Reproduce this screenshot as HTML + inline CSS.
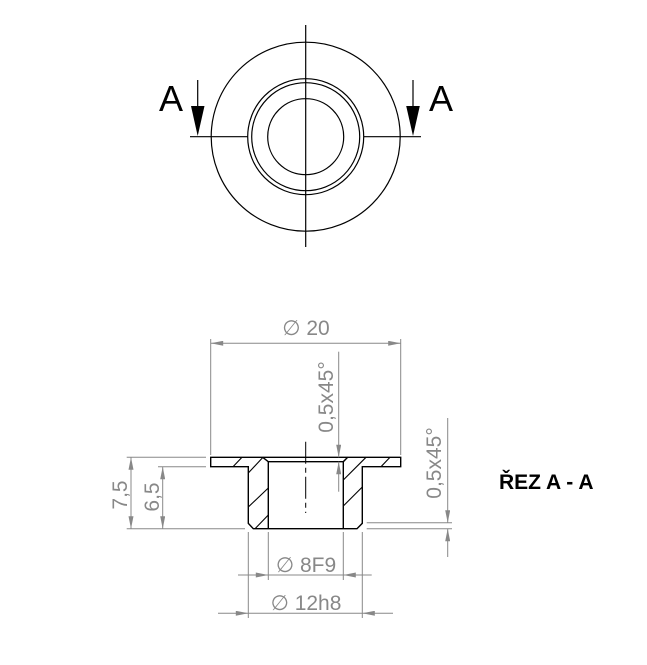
<!DOCTYPE html>
<html><head><meta charset="utf-8"><style>
html,body{margin:0;padding:0;background:#fff;}
svg{display:block;}
text{font-family:"Liberation Sans",sans-serif;}
</style></head><body>
<svg width="647" height="665" viewBox="0 0 647 665" xmlns="http://www.w3.org/2000/svg">
<defs>
<marker id="ar" viewBox="0 0 10 4" refX="10" refY="2" markerWidth="14" markerHeight="5" markerUnits="userSpaceOnUse" orient="auto-start-reverse"><path d="M0,0 L10,2 L0,4 z" fill="#888"/></marker>
</defs>
<g stroke="#000" stroke-width="1.2" fill="none">
<circle cx="305.7" cy="136.7" r="94.5"/>
<circle cx="305.7" cy="136.7" r="58"/>
<circle cx="305.7" cy="136.7" r="54"/>
<circle cx="305.7" cy="136.7" r="38"/>
<line x1="305.7" y1="25" x2="305.7" y2="247"/>
<line x1="190" y1="136.7" x2="247.7" y2="136.7"/>
<line x1="363.7" y1="136.7" x2="421" y2="136.7"/>
<line x1="197.7" y1="80" x2="197.7" y2="110"/>
<line x1="413" y1="80" x2="413" y2="110"/>
</g>
<path d="M191,106 L204.5,106 L197.7,136 z" fill="#000"/>
<path d="M406.2,106 L419.8,106 L413,136 z" fill="#000"/>
<text x="171" y="111" font-size="36" text-anchor="middle" fill="#000">A</text>
<text x="441" y="111" font-size="36" text-anchor="middle" fill="#000">A</text>

<g stroke="#000" stroke-width="1.4" fill="none">
<path d="M210.7,457.3 L400.7,457.3 L400.7,466.7 L362.3,466.7 L362.3,523.3 L357,528.7 L253.3,528.7 L248.3,523.3 L248.3,466.7 L210.7,466.7 Z"/>
<path d="M262.7,457.3 L268.3,461.7 L268.3,528.7"/>
<path d="M347.7,457.3 L343.3,461.7 L343.3,528.7"/>
<line x1="268.3" y1="461.7" x2="343.3" y2="461.7"/>
</g>
<g stroke="#000" stroke-width="1.1">
<line x1="233" y1="466.7" x2="242" y2="457.3"/>
<line x1="248.3" y1="473" x2="263" y2="457.3"/>
<line x1="248.3" y1="507" x2="268.3" y2="488"/>
<line x1="255" y1="528.7" x2="268.3" y2="515"/>
<line x1="343.3" y1="480" x2="366" y2="457.3"/>
<line x1="343.3" y1="506" x2="362.3" y2="487"/>
<line x1="381" y1="466.7" x2="390" y2="457.3"/>
</g>
<g stroke="#000" stroke-width="1" stroke-dasharray="22,4,5,4">
<line x1="305.7" y1="441.7" x2="305.7" y2="513"/>
</g>

<g stroke="#888" stroke-width="1" fill="none">
<line x1="210.7" y1="339" x2="210.7" y2="455"/>
<line x1="400.7" y1="339" x2="400.7" y2="455"/>
<line x1="210.7" y1="343.3" x2="400.7" y2="343.3" marker-start="url(#ar)" marker-end="url(#ar)"/>
<line x1="338.7" y1="351.7" x2="338.7" y2="457.3" marker-end="url(#ar)"/>
<line x1="338.7" y1="491.7" x2="338.7" y2="461.7" marker-end="url(#ar)"/>
<line x1="366.7" y1="522.7" x2="452" y2="522.7"/>
<line x1="366.7" y1="528.7" x2="452" y2="528.7"/>
<line x1="447.7" y1="418" x2="447.7" y2="522.7" marker-end="url(#ar)"/>
<line x1="447.7" y1="557" x2="447.7" y2="528.7" marker-end="url(#ar)"/>
<line x1="126.7" y1="457.3" x2="206" y2="457.3"/>
<line x1="158" y1="466.7" x2="206" y2="466.7"/>
<line x1="126.7" y1="528.7" x2="245" y2="528.7"/>
<line x1="131" y1="457.3" x2="131" y2="528.7" marker-start="url(#ar)" marker-end="url(#ar)"/>
<line x1="162.7" y1="466.7" x2="162.7" y2="528.7" marker-start="url(#ar)" marker-end="url(#ar)"/>
<line x1="268.3" y1="532" x2="268.3" y2="580"/>
<line x1="343.3" y1="532" x2="343.3" y2="580"/>
<line x1="238" y1="575" x2="268.3" y2="575" marker-end="url(#ar)"/>
<line x1="371.7" y1="575" x2="343.3" y2="575" marker-end="url(#ar)"/>
<line x1="268.3" y1="575" x2="343.3" y2="575"/>
<line x1="248.3" y1="532" x2="248.3" y2="618"/>
<line x1="362.3" y1="532" x2="362.3" y2="618"/>
<line x1="218" y1="613.3" x2="248.3" y2="613.3" marker-end="url(#ar)"/>
<line x1="393" y1="613.3" x2="362.3" y2="613.3" marker-end="url(#ar)"/>
<line x1="248.3" y1="613.3" x2="362.3" y2="613.3"/>
</g>
<g fill="#888" font-size="21">
<text x="306" y="335" text-anchor="middle">∅ 20</text>
<text x="306" y="572" text-anchor="middle">∅ 8F9</text>
<text x="306" y="610" text-anchor="middle">∅ 12h8</text>
<text transform="translate(333,397) rotate(-90)" text-anchor="middle">0,5x45°</text>
<text transform="translate(441,463) rotate(-90)" text-anchor="middle">0,5x45°</text>
<text transform="translate(127,495) rotate(-90)" text-anchor="middle">7,5</text>
<text transform="translate(159,497) rotate(-90)" text-anchor="middle">6,5</text>
</g>
<text x="499" y="489" font-size="21" font-weight="bold" fill="#000">ŘEZ A - A</text>
</svg>
</body></html>
